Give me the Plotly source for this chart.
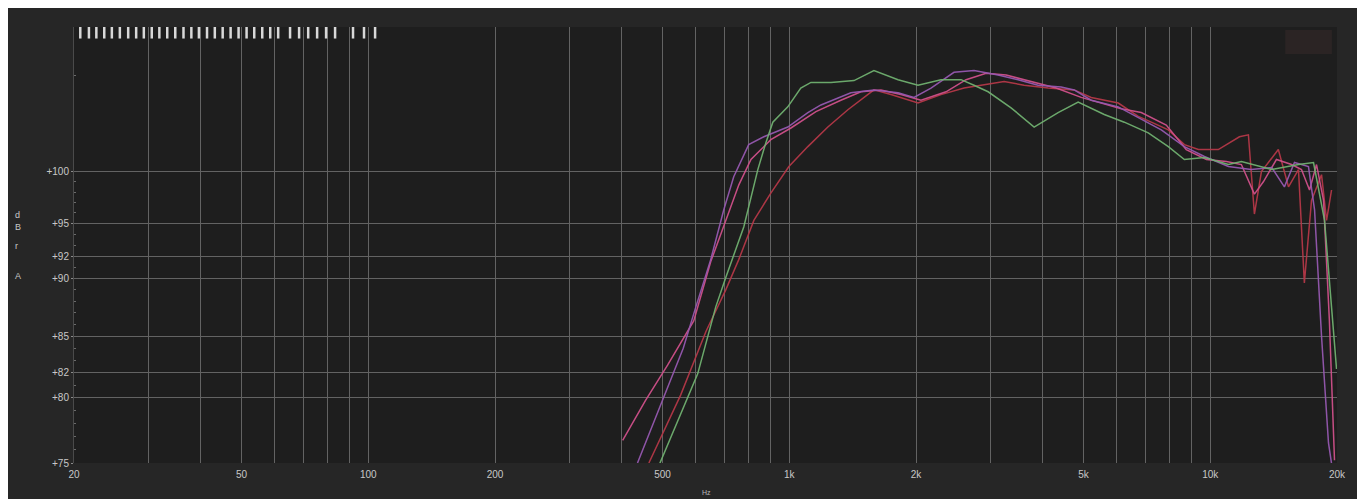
import plotly.graph_objects as go
import math

# ---------------- data ----------------
GREEN_HZ = [490, 552, 606, 669, 707, 780, 842, 880, 914, 992, 1065, 1126, 1256, 1425, 1589, 1813, 2022,
            2293, 2559, 2747, 2967, 3364, 3816, 4351, 4855, 5600, 6249, 7124, 7950, 8680, 9686, 11043,
            11856, 14000, 16200, 17590, 18680, 19950]
GREEN_DB = [74.8, 78.7, 81.9, 87.5, 90.1, 94.7, 100.2, 102.9, 105.0, 106.6, 108.6, 109.2, 109.2, 109.4, 110.5,
            109.5, 108.9, 109.5, 109.5, 108.9, 108.2, 106.5, 104.5, 106.0, 107.1, 105.8, 105.0, 103.9, 102.5,
            101.2, 101.4, 100.7, 101.0, 100.2, 100.7, 100.9, 95.3, 82.3]

PURPLE_HZ = [436, 503, 560, 600, 651, 699, 738, 801, 870, 992, 1107, 1189, 1401, 1589, 1813, 1978, 2171,
             2462, 2747, 3133, 3496, 3900, 4424, 4751, 5215, 6046, 6746, 7650, 8680, 9686, 11043, 12500,
             14000, 15000, 15850, 17110, 17690, 18377, 19090, 19510]
PURPLE_DB = [75.0, 80.0, 84.0, 87.5, 91.7, 96.3, 99.5, 102.7, 103.5, 104.5, 106.0, 106.8, 108.1, 108.4, 108.1,
             107.6, 108.6, 110.3, 110.5, 110.0, 109.5, 108.9, 108.7, 108.4, 107.3, 106.6, 105.5, 104.2, 102.5,
             101.5, 100.5, 100.2, 100.4, 98.5, 100.9, 100.5, 96.3, 85.0, 76.5, 74.5]

PINK_HZ = [402, 456, 514, 593, 651, 707, 759, 811, 904, 1009, 1157, 1326, 1480, 1651, 1842, 2055, 2357,
           2630, 2935, 3275, 3755, 4305, 4936, 5508, 6145, 6856, 7860, 8770, 9790, 10920, 11856, 12730,
           13370, 14360, 15600, 16470, 17210, 17880, 18580, 19180, 19730]
PINK_DB = [76.7, 79.8, 82.6, 86.3, 91.5, 95.3, 98.7, 101.2, 103.2, 104.4, 106.1, 107.3, 108.2, 108.4, 107.9,
           107.3, 108.2, 109.5, 110.2, 110.0, 109.3, 108.6, 107.6, 107.0, 106.4, 106.0, 104.7, 102.2, 101.2,
           101.0, 100.7, 97.8, 99.0, 101.2, 100.7, 100.2, 98.2, 100.7, 97.2, 86.4, 75.2]

RED_HZ = [464, 552, 634, 707, 759, 824, 904, 998, 1107, 1235, 1378, 1589, 1744, 2022, 2293, 2601, 2855,
          3238, 3612, 4121, 4751, 5215, 6046, 6746, 7242, 7950, 8680, 9372, 10450, 11730, 12320, 12730,
          13229, 14510, 15340, 16200, 16730, 17397, 18377, 18890, 19413]
RED_DB = [75.0, 80.2, 85.4, 89.0, 91.7, 95.3, 97.9, 100.5, 102.5, 104.5, 106.3, 108.4, 107.9, 107.0, 107.9,
          108.6, 108.9, 109.3, 108.9, 108.6, 108.4, 107.6, 107.0, 105.6, 105.0, 104.2, 102.7, 102.2, 102.2,
          103.5, 103.7, 95.9, 100.0, 102.2, 98.5, 100.2, 89.6, 97.2, 99.7, 95.3, 98.2]

# axis ticks
Y_TICKS = [75, 80, 82, 85, 90, 92, 95, 100]
Y_LABELS = ["+75", "+80", "+82", "+85", "+90", "+92", "+95", "+100"]
Y_MINOR = [76, 77, 78, 79, 81, 83, 84, 86, 87, 88, 89, 91, 93, 94, 96, 97, 98, 99, 110]
X_GRID = [20, 30, 40, 50, 60, 70, 80, 90, 100, 200, 300, 400, 500, 600, 700, 800, 900,
          1000, 2000, 3000, 4000, 5000, 6000, 7000, 8000, 9000, 10000, 20000]
X_LABELED = {20: "20", 50: "50", 100: "100", 200: "200", 500: "500", 1000: "1k", 2000: "2k",
             5000: "5k", 10000: "10k", 20000: "20k"}

# marker ruler along the top
RULER_HZ = [20.7, 21.7, 22.6, 23.6, 24.6, 25.7, 26.9, 28.1, 29.3, 30.6, 31.9, 33.3, 34.8, 36.4, 38.0,
            39.6, 41.4, 43.2, 45.1, 47.1, 49.2, 51.4, 53.6, 56.0, 58.5, 61.1,
            65.2, 68.5, 72.0, 75.6, 79.4, 83.4,
            92.0, 97.7, 103.8]

# ---------------- figure ----------------
fig = go.Figure()

series = [
    ("red", RED_HZ, RED_DB, "rgba(180,56,72,0.95)"),
    ("pink", PINK_HZ, PINK_DB, "rgba(208,80,138,0.95)"),
    ("purple", PURPLE_HZ, PURPLE_DB, "rgba(150,88,176,0.95)"),
    ("green", GREEN_HZ, GREEN_DB, "rgba(112,176,112,0.95)"),
]
for name, hz, db, col in series:
    fig.add_trace(go.Scatter(x=hz, y=db, mode="lines", name=name,
                             line=dict(color=col, width=1.5), showlegend=False))

fig.add_trace(go.Scatter(x=RULER_HZ, y=[0.988] * len(RULER_HZ), yaxis="y2", mode="markers",
                         marker=dict(symbol="line-ns", size=9, line=dict(color="#d8d8d8", width=2.5)),
                         showlegend=False, hoverinfo="skip"))

grid_col = "#636363"
PH = 436.0  # plot height in px
fig.update_layout(
    width=1365, height=499,
    margin=dict(l=66, r=36, t=19, b=44),
    paper_bgcolor="#262626",
    plot_bgcolor="#1e1e1e",
    font=dict(family="Liberation Sans, Arial, sans-serif", color="#c8c8c8", size=10),
    xaxis=dict(
        type="log", range=[math.log10(20), math.log10(20000)],
        tickmode="array", tickvals=X_GRID,
        ticktext=[X_LABELED.get(v, "") for v in X_GRID],
        showgrid=True, gridcolor=grid_col, gridwidth=1,
        zeroline=False, showline=False, ticks="outside", ticklen=2, tickcolor="rgba(0,0,0,0)",
        tickfont=dict(size=10, color="#c8c8c8"),
    ),
    yaxis=dict(
        type="log", range=[math.log10(75), 2.062],
        tickmode="array", tickvals=Y_TICKS, ticktext=Y_LABELS,
        showgrid=True, gridcolor=grid_col, gridwidth=1,
        zeroline=False, showline=True, linecolor="#4a4a4a", linewidth=1,
        ticks="outside", ticklen=2, tickcolor="#8a8a8a",
        minor=dict(tickmode="array", tickvals=Y_MINOR, ticks="inside", ticklen=2,
                   tickcolor="#6a6a6a", showgrid=False),
        tickfont=dict(size=10, color="#c8c8c8"),
    ),
    yaxis2=dict(overlaying="y", range=[0, 1], visible=False, fixedrange=True),
    shapes=[
        dict(type="line", xref="x", yref="paper", x0=math.log10(20), x1=math.log10(108),
             y0=0.998, y1=0.998, line=dict(color="#cfcfcf", width=1.5)),
        dict(type="rect", xref="paper", yref="paper", x0=0.959, x1=0.996, y0=0.938, y1=0.993,
             fillcolor="#2b2424", line=dict(width=0), layer="below"),
    ],
    annotations=[
        dict(text="Hz", xref="paper", yref="paper", x=0.501, y=-30 / PH, showarrow=False,
             font=dict(size=7, color="#b8b8b8"), yanchor="middle"),
        dict(text="d", xref="paper", yref="paper", x=-0.048, y=(455 - 207) / PH, showarrow=False,
             font=dict(size=9, color="#c8c8c8")),
        dict(text="B", xref="paper", yref="paper", x=-0.048, y=(455 - 219) / PH, showarrow=False,
             font=dict(size=9, color="#c8c8c8")),
        dict(text="r", xref="paper", yref="paper", x=-0.048, y=(455 - 238) / PH, showarrow=False,
             font=dict(size=9, color="#c8c8c8")),
        dict(text="A", xref="paper", yref="paper", x=-0.048, y=(455 - 268) / PH, showarrow=False,
             font=dict(size=9, color="#c8c8c8")),
    ],
)

fig.write_html("out.html")
